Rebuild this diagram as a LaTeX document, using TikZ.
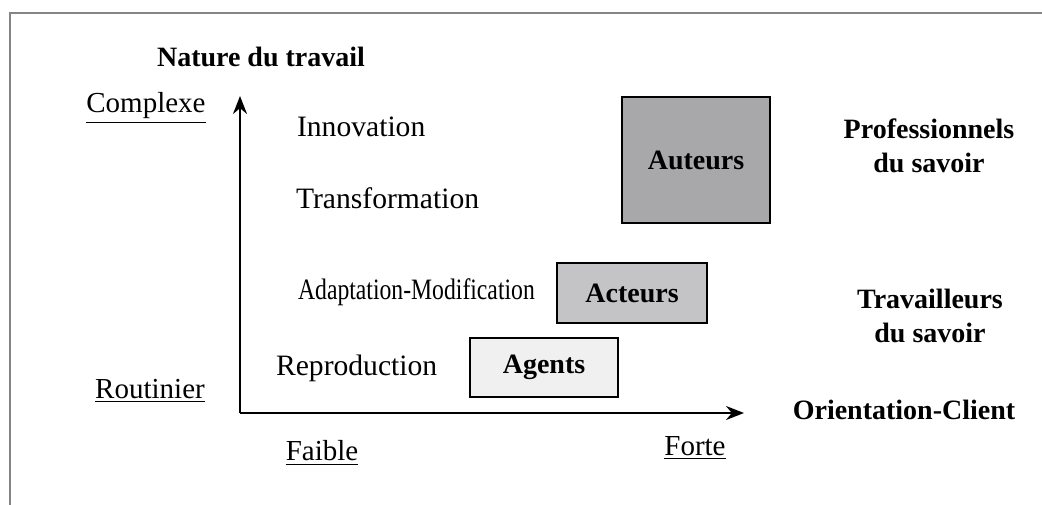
\documentclass[tikz,border=0pt]{standalone}
\usepackage{fontspec}
\setmainfont{Liberation Serif}
\usepackage{tikz}
\usetikzlibrary{arrows.meta}
\usetikzlibrary{positioning}
\definecolor{framegray}{HTML}{858585}
\definecolor{auteurfill}{HTML}{A8A8AA}
\definecolor{acteurfill}{HTML}{C4C4C7}
\definecolor{agentfill}{HTML}{F0F0F0}
\tikzset{
	axis/.style={line width=1pt, -{Stealth[length=9pt,width=7pt]}},
	rolebox/.style={draw, line width=0.8pt, font=\fontsize{14}{16}\selectfont\bfseries, inner sep=0pt},
	level/.style={anchor=west, font=\fontsize{14.8}{17}\selectfont},
	bound/.style={font=\fontsize{14.5}{17}\selectfont},
	group/.style={align=center, font=\fontsize{14}{17}\selectfont\bfseries},
}

\begin{document}
\begin{tikzpicture}[x=0.5pt,y=-0.5pt]
			\useasboundingbox (0,0) rectangle (1042,504);
			\draw[framegray, line width=1pt] (10,520) |- (1060,13);
			\coordinate (O) at (240,413);
			\coordinate (ytip) at (240,96);
			\coordinate (xtip) at (744,413);
			\draw[axis] (O) -- (ytip);
			\draw[axis] (O) -- (xtip);
			\node[group] (nature) at (261,57) {Nature du travail};
			\node[bound] (complexe) at (146,108) {\underline{Complexe}};
			\node[bound] (routinier) at (150,391) {\underline{Routinier}};
			\node[bound] (faible) at (322,453) {\underline{Faible}};
			\node[bound] (forte) at (695,448) {\underline{Forte}};
			\node[level] (innovation) at (290,127) {Innovation};
			\node[level] (transfo) at (289,198) {Transformation};
			\node[level] (adapt) at (291,292) {\scalebox{0.8}[1]{Adaptation-Modification}};
			\node[level] (repro) at (269,368) {Reproduction};
			\node[rolebox, fill=auteurfill, minimum width=74pt, minimum height=63pt] (auteurs) at (696,160) {Auteurs};
			\node[rolebox, fill=acteurfill, minimum width=75pt, minimum height=30pt] (acteurs) at (632,293) {Acteurs};
			\node[rolebox, fill=agentfill, minimum width=74pt, minimum height=29.5pt] (agents) at (544,367.5) {Agents};
			\node[group] (pros) at (929,146) {Professionnels\\du savoir};
			\node[group] (travail) at (930,316) {Travailleurs\\du savoir};
			\node[group] (client) at (904,410) {Orientation-Client};
		\end{tikzpicture}
\end{document}
